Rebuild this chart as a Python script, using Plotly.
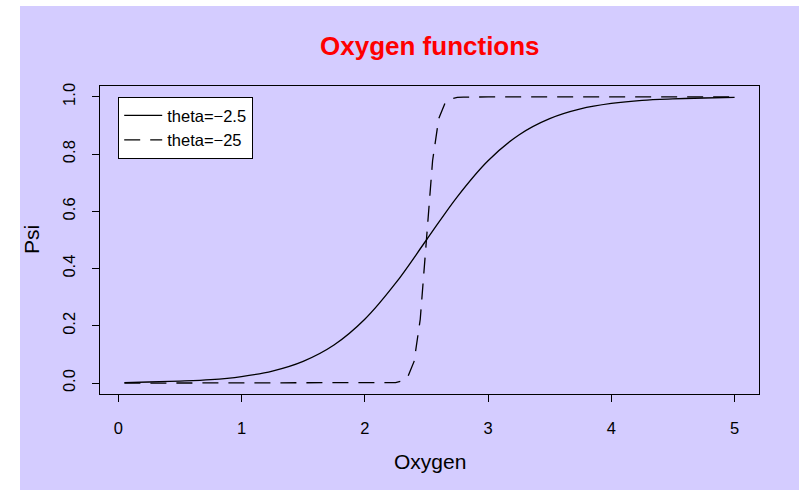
import plotly.graph_objects as go

# ---- data ----
oxygen_a = [0.05, 0.25, 0.5, 0.75, 1.0, 1.25, 1.5, 1.75, 2.0, 2.25, 2.5,
            2.75, 3.0, 3.25, 3.5, 3.75, 4.0, 4.25, 4.5, 4.75, 5.0]
psi_a = [0.002, 0.004, 0.007, 0.012, 0.023, 0.042, 0.076, 0.133, 0.223, 0.349, 0.5,
         0.651, 0.777, 0.867, 0.924, 0.958, 0.977, 0.988, 0.993, 0.996, 0.998]

oxygen_b = [0.05, 1.0, 2.0, 2.2, 2.25, 2.3, 2.35, 2.4, 2.45, 2.5, 2.55,
            2.6, 2.65, 2.7, 2.75, 2.8, 3.0, 4.0, 5.0]
psi_b = [0.0, 0.0, 0.0, 0.001, 0.002, 0.007, 0.023, 0.076, 0.223, 0.5, 0.777,
         0.924, 0.977, 0.993, 0.998, 0.999, 1.0, 1.0, 1.0]

series_names = ["theta=\u22122.5", "theta=\u221225"]
x_ticks = [0, 1, 2, 3, 4, 5]
x_labels = ["0", "1", "2", "3", "4", "5"]
y_ticks = [0.0, 0.2, 0.4, 0.6, 0.8, 1.0]
y_labels = ["0.0", "0.2", "0.4", "0.6", "0.8", "1.0"]

# ---- layout geometry ----
W, H = 799, 490
L, R, T, B = 100, 40, 86, 96
PW = W - L - R
PH = H - T - B


def px(x):
    return (x - L) / PW


def py(y):
    return (H - B - y) / PH


BG = "#D4CCFF"
FONT = "Liberation Sans, Arial, Helvetica, sans-serif"

fig = go.Figure()
fig.add_trace(go.Scatter(x=oxygen_a, y=psi_a, mode="lines", name=series_names[0],
                         line=dict(color="black", width=1.3, shape="spline")))
fig.add_trace(go.Scatter(x=oxygen_b, y=psi_b, mode="lines", name=series_names[1],
                         line=dict(color="black", width=1.3, dash="16px,10px")))

axis_common = dict(showgrid=False, zeroline=False, showline=True, mirror=True,
                   linecolor="black", linewidth=1.2, ticks="outside", ticklen=7,
                   tickwidth=1.2, tickcolor="black",
                   tickfont=dict(family=FONT, size=16.5, color="black"))

fig.update_xaxes(range=[-0.148, 5.198], tickvals=x_ticks, ticktext=x_labels,
                 ticklabelstandoff=12, **axis_common)
fig.update_yaxes(range=[-0.038, 1.038], tickvals=y_ticks, ticktext=y_labels,
                 tickangle=-90, ticklabelstandoff=10, **axis_common)

fig.update_layout(
    width=W, height=H,
    margin=dict(l=L, r=R, t=T, b=B, pad=0),
    paper_bgcolor=BG, plot_bgcolor=BG,
    font=dict(family=FONT, color="black"),
    showlegend=True,
    legend=dict(x=px(118), y=py(97), xanchor="left", yanchor="top",
                bgcolor="white", bordercolor="black", borderwidth=1.2,
                font=dict(family=FONT, size=16.5, color="black"),
                tracegroupgap=0, itemwidth=38),
    shapes=[
        dict(type="rect", xref="paper", yref="paper", x0=px(0), x1=px(20),
             y0=py(H), y1=py(0), fillcolor="white", line=dict(width=0), layer="above"),
        dict(type="rect", xref="paper", yref="paper", x0=px(0), x1=px(W),
             y0=py(6), y1=py(0), fillcolor="white", line=dict(width=0), layer="above"),
    ],
    annotations=[
        dict(text="<b>Oxygen functions</b>", xref="paper", yref="paper",
             x=px(430), y=py(46), xanchor="center", yanchor="middle", showarrow=False,
             font=dict(family=FONT, size=26, color="#FF0000")),
        dict(text="Oxygen", xref="paper", yref="paper",
             x=px(430), y=py(461), xanchor="center", yanchor="middle", showarrow=False,
             font=dict(family=FONT, size=21, color="black")),
        dict(text="Psi", xref="paper", yref="paper", textangle=-90,
             x=px(31), y=py(240), xanchor="center", yanchor="middle", showarrow=False,
             font=dict(family=FONT, size=21, color="black")),
    ],
)

fig.write_html("out.html")
